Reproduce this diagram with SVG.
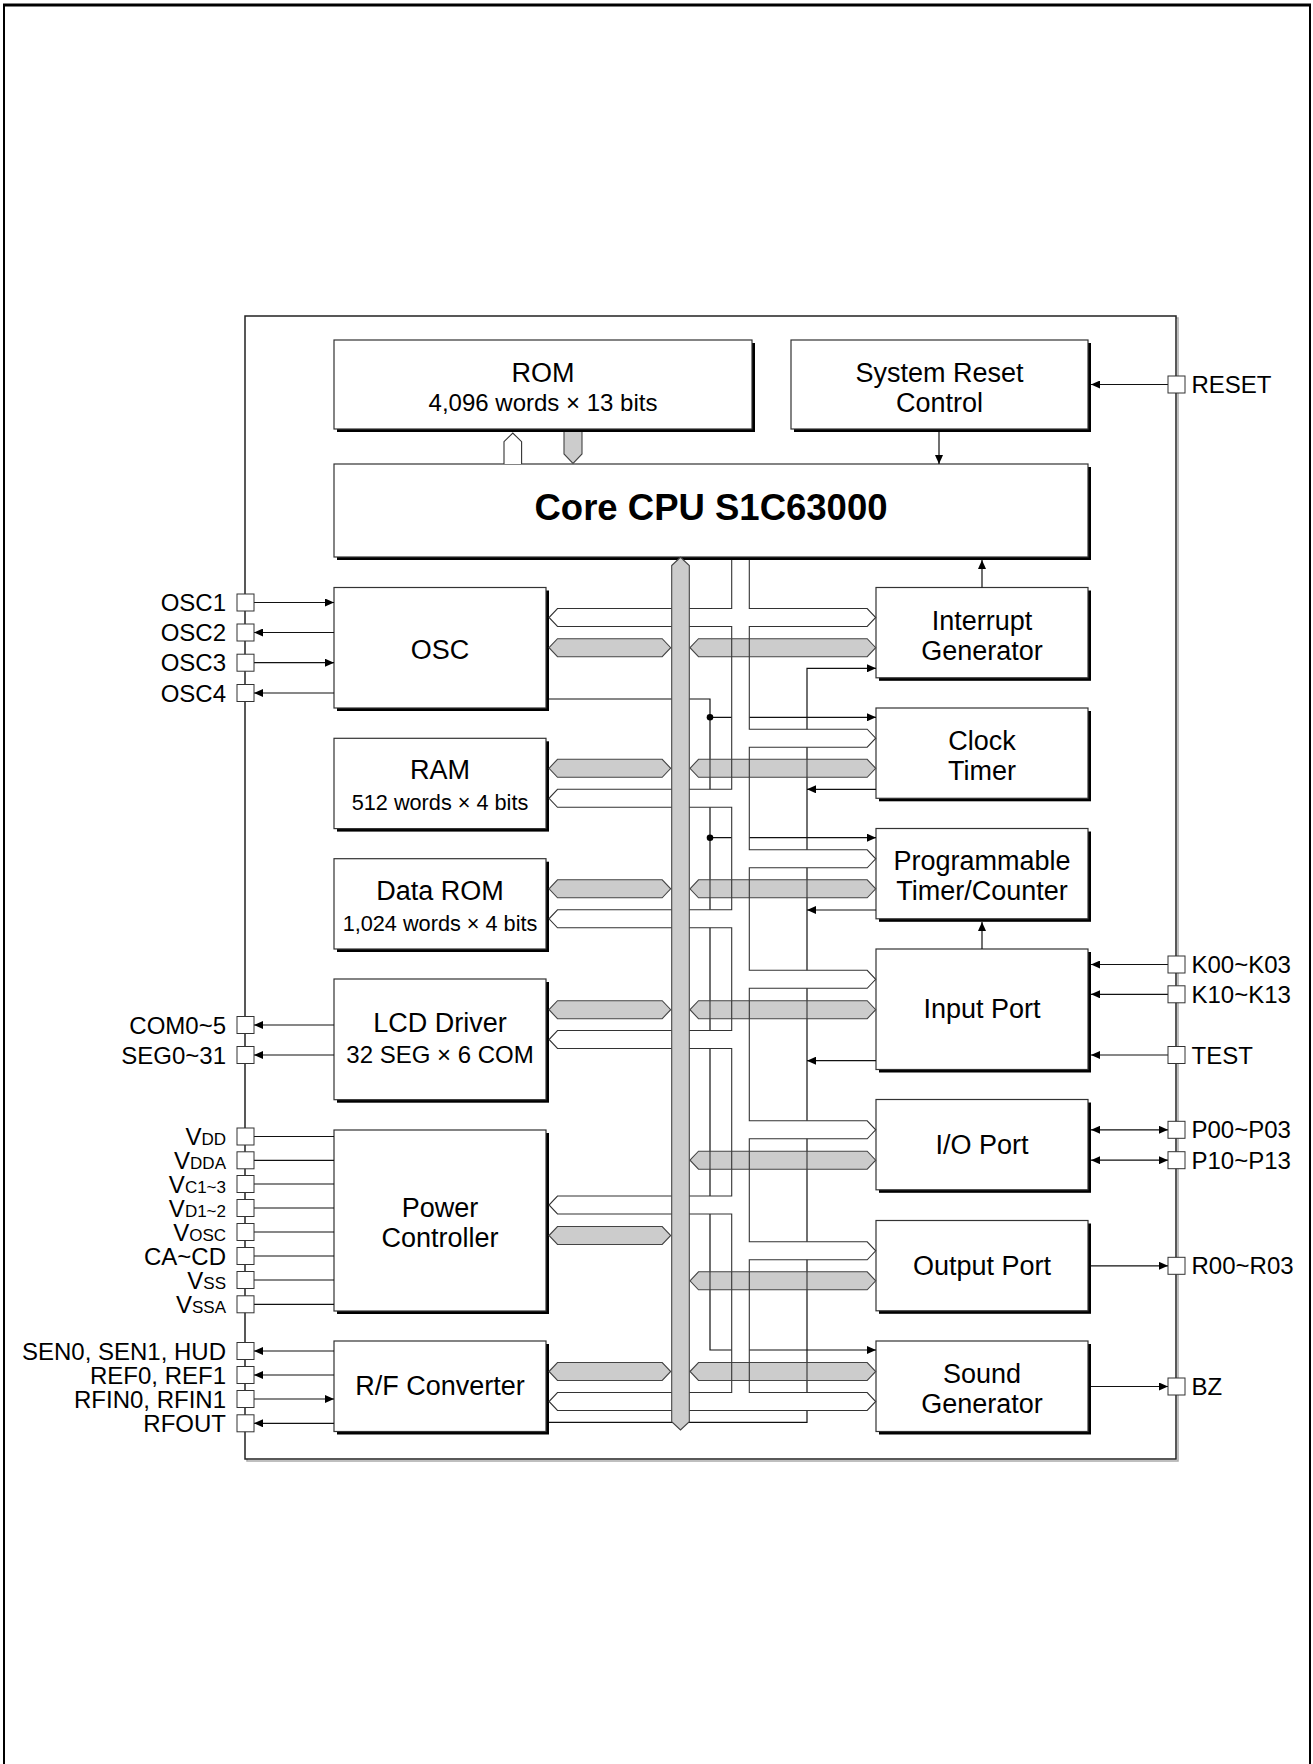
<svg xmlns="http://www.w3.org/2000/svg" width="1313" height="1764" viewBox="0 0 1313 1764">
<defs>
<marker id="a" viewBox="0 0 9 8" refX="9" refY="4" markerWidth="9" markerHeight="8" markerUnits="userSpaceOnUse" orient="auto-start-reverse"><path d="M0,0L9,4L0,8z" fill="#000"/></marker>
<style>
.sh{fill:#000}
.bx{fill:#fff;stroke:#333;stroke-width:1.2}
.t{font-family:"Liberation Sans",Arial,Helvetica,sans-serif;fill:#000}
.lb{font-size:27px;text-anchor:middle}
.sb{font-size:21.7px;text-anchor:middle}
.pl{font-size:24px;text-anchor:end}
.pr{font-size:24px;text-anchor:start}
.sm{font-size:17px}
.pad{fill:#fff;stroke:#333;stroke-width:1}
.ln{fill:none;stroke:#111;stroke-width:1.2}
.gb{fill:#cccccc;stroke:#444;stroke-width:1.1}
.wn{fill:#fff;stroke:#333;stroke-width:1.1}
</style>
</defs>
<rect width="1313" height="1764" fill="#fff"/>
<path d="M4,1764V5H1310V1764" fill="none" stroke="#000" stroke-width="2"/>
<line x1="3" y1="5" x2="1311" y2="5" stroke="#000" stroke-width="3"/>
<rect x="247" y="318" width="931" height="1143" fill="none" stroke="#aaa" stroke-width="1.5"/>
<rect x="245" y="316" width="931" height="1143" fill="#fff" stroke="#222" stroke-width="1.5"/>

<g id="rom"><rect class="sh" x="337" y="343" width="418" height="89"/><rect class="bx" x="334" y="340" width="418" height="89"/><text class="t lb" x="543" y="382">ROM</text><text class="t" x="543" y="410.5" font-size="24" text-anchor="middle">4,096 words × 13 bits</text></g>
<g id="src"><rect class="sh" x="794" y="343" width="297" height="89"/><rect class="bx" x="791" y="340" width="297" height="89"/><text class="t lb" x="939.5" y="381.5">System Reset</text><text class="t lb" x="939.5" y="412">Control</text></g>
<g id="cpu"><rect class="sh" x="337" y="467" width="754" height="93"/><rect class="bx" x="334" y="464" width="754" height="93"/><text class="t" x="711" y="520" font-size="36.5" font-weight="bold" text-anchor="middle">Core CPU S1C63000</text></g>
<g id="osc"><rect class="sh" x="337" y="590.5" width="212" height="120.5"/><rect class="bx" x="334" y="587.5" width="212" height="120.5"/><text class="t lb" x="440" y="658.5">OSC</text></g>
<g id="ram"><rect class="sh" x="337" y="741.3" width="212" height="90.3"/><rect class="bx" x="334" y="738.3" width="212" height="90.3"/><text class="t lb" x="440" y="779">RAM</text><text class="t sb" x="440" y="810">512 words × 4 bits</text></g>
<g id="drom"><rect class="sh" x="337" y="861.7" width="212" height="90.3"/><rect class="bx" x="334" y="858.7" width="212" height="90.3"/><text class="t lb" x="440" y="900">Data ROM</text><text class="t sb" x="440" y="930.5">1,024 words × 4 bits</text></g>
<g id="lcd"><rect class="sh" x="337" y="982" width="212" height="120.7"/><rect class="bx" x="334" y="979" width="212" height="120.7"/><text class="t lb" x="440" y="1031.5">LCD Driver</text><text class="t" x="440" y="1062.5" font-size="24" text-anchor="middle">32 SEG × 6 COM</text></g>
<g id="pwr"><rect class="sh" x="337" y="1133" width="212" height="181"/><rect class="bx" x="334" y="1130" width="212" height="181"/><text class="t lb" x="440" y="1217">Power</text><text class="t lb" x="440" y="1247">Controller</text></g>
<g id="rf"><rect class="sh" x="337" y="1344" width="212" height="90.5"/><rect class="bx" x="334" y="1341" width="212" height="90.5"/><text class="t lb" x="440" y="1395">R/F Converter</text></g>
<g id="intg"><rect class="sh" x="879" y="590.5" width="212" height="90.3"/><rect class="bx" x="876" y="587.5" width="212" height="90.3"/><text class="t lb" x="982" y="629.5">Interrupt</text><text class="t lb" x="982" y="659.5">Generator</text></g>
<g id="clk"><rect class="sh" x="879" y="711" width="212" height="90.3"/><rect class="bx" x="876" y="708" width="212" height="90.3"/><text class="t lb" x="982" y="750">Clock</text><text class="t lb" x="982" y="780">Timer</text></g>
<g id="ptc"><rect class="sh" x="879" y="831.5" width="212" height="90.3"/><rect class="bx" x="876" y="828.5" width="212" height="90.3"/><text class="t lb" x="982" y="870">Programmable</text><text class="t lb" x="982" y="900">Timer/Counter</text></g>
<g id="inp"><rect class="sh" x="879" y="952" width="212" height="120.5"/><rect class="bx" x="876" y="949" width="212" height="120.5"/><text class="t lb" x="982" y="1018">Input Port</text></g>
<g id="iop"><rect class="sh" x="879" y="1102.5" width="212" height="90.3"/><rect class="bx" x="876" y="1099.5" width="212" height="90.3"/><text class="t lb" x="982" y="1153.5">I/O Port</text></g>
<g id="outp"><rect class="sh" x="879" y="1223.5" width="212" height="90.3"/><rect class="bx" x="876" y="1220.5" width="212" height="90.3"/><text class="t lb" x="982" y="1274.5">Output Port</text></g>
<g id="snd"><rect class="sh" x="879" y="1344" width="212" height="90.5"/><rect class="bx" x="876" y="1341" width="212" height="90.5"/><text class="t lb" x="982" y="1383">Sound</text><text class="t lb" x="982" y="1413">Generator</text></g>

<g id="connectors">
<path class="ln" d="M254,602.5H334" marker-end="url(#a)"/>
<path class="ln" d="M334,632.5H254" marker-end="url(#a)"/>
<path class="ln" d="M254,662.7H334" marker-end="url(#a)"/>
<path class="ln" d="M334,693H254" marker-end="url(#a)"/>
<path class="ln" d="M334,1025H254" marker-end="url(#a)"/>
<path class="ln" d="M334,1055H254" marker-end="url(#a)"/>
<path class="ln" d="M254,1136.5H334M254,1160.3H334M254,1184H334M254,1208H334M254,1232H334M254,1256H334M254,1280H334M254,1304.3H334"/>
<path class="ln" d="M334,1351H254" marker-end="url(#a)"/>
<path class="ln" d="M334,1375H254" marker-end="url(#a)"/>
<path class="ln" d="M254,1399H334" marker-end="url(#a)"/>
<path class="ln" d="M334,1423.3H254" marker-end="url(#a)"/>
<path class="ln" d="M1168,384.5H1091" marker-end="url(#a)"/>
<path class="ln" d="M1168,964.5H1091" marker-end="url(#a)"/>
<path class="ln" d="M1168,994.3H1091" marker-end="url(#a)"/>
<path class="ln" d="M1168,1055H1091" marker-end="url(#a)"/>
<path class="ln" d="M1091,1129.8H1168" marker-start="url(#a)" marker-end="url(#a)"/>
<path class="ln" d="M1091,1160.2H1168" marker-start="url(#a)" marker-end="url(#a)"/>
<path class="ln" d="M1091,1265.8H1168" marker-end="url(#a)"/>
<path class="ln" d="M1091,1386.5H1168" marker-end="url(#a)"/>
<path class="ln" d="M939,432V464" marker-end="url(#a)"/>
<path class="ln" d="M982,587.5V560" marker-end="url(#a)"/>
<path class="ln" d="M982,949V922" marker-end="url(#a)"/>
<path d="M504,464V441.7L512.8,433L521.6,441.7V464" fill="#fff" stroke="#333" stroke-width="1.1"/>
<path d="M564,432V454L573,463.5L582,454V432" fill="#cccccc" stroke="#444" stroke-width="1.1"/>
<path class="ln" d="M549,699H710V1350H876" marker-end="url(#a)"/>
<path class="ln" d="M710,717.3H876" marker-end="url(#a)"/>
<path class="ln" d="M710,837.7H876" marker-end="url(#a)"/>
<path class="ln" d="M549,1422.3H807V668.3H876" marker-end="url(#a)"/>
<path class="ln" d="M876,789.3H807" marker-end="url(#a)"/>
<path class="ln" d="M876,910H807" marker-end="url(#a)"/>
<path class="ln" d="M876,1060.7H807" marker-end="url(#a)"/>
<circle cx="710" cy="717.3" r="3.3" fill="#000"/>
<circle cx="710" cy="837.7" r="3.3" fill="#000"/>
<path class="wn" d="M731.7,560V608.5H557.5L549,617.5L557.5,626.5H731.7V789.3H557.5L549,798.3L557.5,807.3H731.7V909.8H557.5L549,918.8L557.5,927.8H731.7V1030.5H557.5L549,1039.5L557.5,1048.5H731.7V1196H557.5L549,1205L557.5,1214H731.7V1392.5H557.5L549,1401.5L557.5,1410.5H867.2L875.7,1401.5L867.2,1392.5H749.3V1259.8H867.2L875.7,1250.8L867.2,1241.8H749.3V1138.8H867.2L875.7,1129.8L867.2,1120.8H749.3V988.3H867.2L875.7,979.3L867.2,970.3H749.3V867.8H867.2L875.7,858.8L867.2,849.8H749.3V747.2H867.2L875.7,738.2L867.2,729.2H749.3V626.5H867.2L875.7,617.5L867.2,608.5H749.3V560"/>
<g class="gb">
<path d="M549,647.7L557.5,638.7H662.2L670.7,647.7L662.2,656.7H557.5Z"/>
<path d="M690,647.7L698.5,638.7H867.2L875.7,647.7L867.2,656.7H698.5Z"/>
<path d="M549,768.3L557.5,759.3H662.2L670.7,768.3L662.2,777.3H557.5Z"/>
<path d="M690,768.3L698.5,759.3H867.2L875.7,768.3L867.2,777.3H698.5Z"/>
<path d="M549,888.8L557.5,879.8H662.2L670.7,888.8L662.2,897.8H557.5Z"/>
<path d="M690,888.8L698.5,879.8H867.2L875.7,888.8L867.2,897.8H698.5Z"/>
<path d="M549,1009.7L557.5,1000.7H662.2L670.7,1009.7L662.2,1018.7H557.5Z"/>
<path d="M690,1009.7L698.5,1000.7H867.2L875.7,1009.7L867.2,1018.7H698.5Z"/>
<path d="M690,1160.2L698.5,1151.2H867.2L875.7,1160.2L867.2,1169.2H698.5Z"/>
<path d="M549,1235.5L557.5,1226.5H662.2L670.7,1235.5L662.2,1244.5H557.5Z"/>
<path d="M690,1280.8L698.5,1271.8H867.2L875.7,1280.8L867.2,1289.8H698.5Z"/>
<path d="M549,1371.5L557.5,1362.5H662.2L670.7,1371.5L662.2,1380.5H557.5Z"/>
<path d="M690,1371.5L698.5,1362.5H867.2L875.7,1371.5L867.2,1380.5H698.5Z"/>
</g>
<path d="M731.7,638.7V656.7M749.3,638.7V656.7M710,759.3V777.3M731.7,759.3V777.3M749.3,759.3V777.3M807,759.3V777.3M710,879.8V897.8M731.7,879.8V897.8M749.3,879.8V897.8M807,879.8V897.8M710,1000.7V1018.7M731.7,1000.7V1018.7M749.3,1000.7V1018.7M807,1000.7V1018.7M710,1151.2V1169.2M731.7,1151.2V1169.2M749.3,1151.2V1169.2M807,1151.2V1169.2M710,1271.8V1289.8M731.7,1271.8V1289.8M749.3,1271.8V1289.8M807,1271.8V1289.8M731.7,1362.5V1380.5M749.3,1362.5V1380.5M807,1362.5V1380.5" fill="none" stroke="#333" stroke-width="1.1"/>
<path d="M671.7,565.5L680.5,557.3L689.3,565.5V1421.7L680.5,1430L671.7,1421.7Z" fill="#cccccc" stroke="#444" stroke-width="1.1"/>
</g>

<g id="pins">
<g id="p-osc1"><rect class="pad" x="237" y="594" width="17" height="17"/><text class="t pl" x="226" y="611">OSC1</text></g>
<g id="p-osc2"><rect class="pad" x="237" y="624" width="17" height="17"/><text class="t pl" x="226" y="641">OSC2</text></g>
<g id="p-osc3"><rect class="pad" x="237" y="654.2" width="17" height="17"/><text class="t pl" x="226" y="671.3">OSC3</text></g>
<g id="p-osc4"><rect class="pad" x="237" y="684.5" width="17" height="17"/><text class="t pl" x="226" y="701.6">OSC4</text></g>
<g id="p-com"><rect class="pad" x="237" y="1016.5" width="17" height="17"/><text class="t pl" x="226" y="1033.6">COM0~5</text></g>
<g id="p-seg"><rect class="pad" x="237" y="1046.5" width="17" height="17"/><text class="t pl" x="226" y="1063.6">SEG0~31</text></g>
<g id="p-vdd"><rect class="pad" x="237" y="1128" width="17" height="17"/><text class="t pl" x="226" y="1145">V<tspan class="sm">DD</tspan></text></g>
<g id="p-vdda"><rect class="pad" x="237" y="1151.8" width="17" height="17"/><text class="t pl" x="226" y="1168.8">V<tspan class="sm">DDA</tspan></text></g>
<g id="p-vc"><rect class="pad" x="237" y="1175.5" width="17" height="17"/><text class="t pl" x="226" y="1192.5">V<tspan class="sm">C1~3</tspan></text></g>
<g id="p-vd"><rect class="pad" x="237" y="1199.5" width="17" height="17"/><text class="t pl" x="226" y="1216.5">V<tspan class="sm">D1~2</tspan></text></g>
<g id="p-vosc"><rect class="pad" x="237" y="1223.5" width="17" height="17"/><text class="t pl" x="226" y="1240.5">V<tspan class="sm">OSC</tspan></text></g>
<g id="p-ca"><rect class="pad" x="237" y="1247.5" width="17" height="17"/><text class="t pl" x="226" y="1264.5">CA~CD</text></g>
<g id="p-vss"><rect class="pad" x="237" y="1271.5" width="17" height="17"/><text class="t pl" x="226" y="1288.5">V<tspan class="sm">SS</tspan></text></g>
<g id="p-vssa"><rect class="pad" x="237" y="1295.8" width="17" height="17"/><text class="t pl" x="226" y="1312.8">V<tspan class="sm">SSA</tspan></text></g>
<g id="p-sen"><rect class="pad" x="237" y="1342.5" width="17" height="17"/><text class="t pl" x="226" y="1359.5">SEN0, SEN1, HUD</text></g>
<g id="p-ref"><rect class="pad" x="237" y="1366.5" width="17" height="17"/><text class="t pl" x="226" y="1383.5">REF0, REF1</text></g>
<g id="p-rfin"><rect class="pad" x="237" y="1390.5" width="17" height="17"/><text class="t pl" x="226" y="1407.5">RFIN0, RFIN1</text></g>
<g id="p-rfout"><rect class="pad" x="237" y="1414.8" width="17" height="17"/><text class="t pl" x="226" y="1431.8">RFOUT</text></g>
<g id="p-reset"><rect class="pad" x="1168" y="376" width="17" height="17"/><text class="t pr" x="1191.5" y="393">RESET</text></g>
<g id="p-k0"><rect class="pad" x="1168" y="956" width="17" height="17"/><text class="t pr" x="1191.5" y="973">K00~K03</text></g>
<g id="p-k1"><rect class="pad" x="1168" y="985.8" width="17" height="17"/><text class="t pr" x="1191.5" y="1002.8">K10~K13</text></g>
<g id="p-test"><rect class="pad" x="1168" y="1046.5" width="17" height="17"/><text class="t pr" x="1191.5" y="1063.5">TEST</text></g>
<g id="p-p0"><rect class="pad" x="1168" y="1121.3" width="17" height="17"/><text class="t pr" x="1191.5" y="1138.3">P00~P03</text></g>
<g id="p-p1"><rect class="pad" x="1168" y="1151.7" width="17" height="17"/><text class="t pr" x="1191.5" y="1168.7">P10~P13</text></g>
<g id="p-r0"><rect class="pad" x="1168" y="1257.3" width="17" height="17"/><text class="t pr" x="1191.5" y="1274.3">R00~R03</text></g>
<g id="p-bz"><rect class="pad" x="1168" y="1378" width="17" height="17"/><text class="t pr" x="1191.5" y="1395">BZ</text></g>
</g>
</svg>
